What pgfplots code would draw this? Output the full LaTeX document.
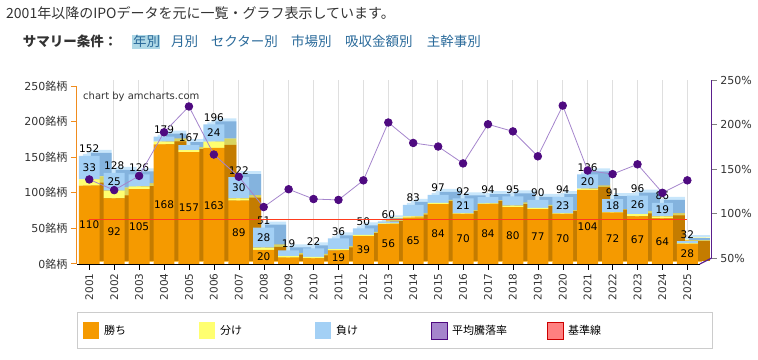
\documentclass[border=0pt]{standalone}
\usepackage{pgfplots}
\pgfplotsset{compat=1.18}
\usepackage{pgfplotstable}
\usepackage{fontspec}
\setmainfont{DejaVu Sans}
\newfontfamily\jp{Noto Sans CJK JP}
\definecolor{orF}{HTML}{F59A00}
\definecolor{orT}{HTML}{FBC045}
\definecolor{orS}{HTML}{C47C00}
\definecolor{yeF}{HTML}{FFFF70}
\definecolor{yeT}{HTML}{FFFFA8}
\definecolor{yeS}{HTML}{D8D460}
\definecolor{blF}{HTML}{A3D0F5}
\definecolor{blT}{HTML}{C8E6FB}
\definecolor{blS}{HTML}{84B3DE}
\definecolor{pline}{HTML}{A585CC}
\definecolor{pmark}{HTML}{4E0A80}
\definecolor{paxis}{HTML}{5A1F8C}
\definecolor{oaxis}{HTML}{F08C1E}
\definecolor{baseln}{RGB}{255,60,30}
\definecolor{txt}{HTML}{333333}
\definecolor{link}{HTML}{2A6A9A}
\definecolor{hl}{HTML}{AED8E6}

\pgfplotstableread{
i year win tie loss total rate wl ll
0 2001 110 9 33 152 145 110 33
1 2002 92 11 25 128 133 92 25
2 2003 105 4 17 126 149 105 {}
3 2004 168 4 7 179 198 168 {}
4 2005 157 3 7 167 227 157 {}
5 2006 163 9 24 196 173 163 24
6 2007 89 3 30 122 148 89 30
7 2008 20 3 28 51 114 20 28
8 2009 9 2 8 19 134 {} {}
9 2010 8 2 12 22 123 {} {}
10 2011 19 2 15 36 122 19 {}
11 2012 39 2 9 50 144 39 {}
12 2013 56 1 3 60 209 56 {}
13 2014 65 2 16 83 186 65 {}
14 2015 84 2 11 97 182 84 {}
15 2016 70 1 21 92 163 70 21
16 2017 84 1 9 94 207 84 {}
17 2018 80 2 13 95 199 80 {}
18 2019 77 2 11 90 171 77 {}
19 2020 70 1 23 94 228 70 23
20 2021 104 2 20 126 155 104 20
21 2022 72 1 18 91 151 72 18
22 2023 67 3 26 96 162 67 26
23 2024 64 3 19 86 130 64 19
24 2025 28 1 3 32 144 28 {}
}\data

\pgfplotsset{
  base/.style={scale only axis, width=623pt, height=178pt, xmin=-0.5, xmax=24.5,
    ymin=0, ymax=250, anchor=south west, clip=false},
  hid/.style={base, hide axis},
  stk/.style={hid, ybar stacked, bar width=0.84},
}
\newcommand\bars[3]{%
  \addplot[fill=#1, draw=none] table[x=i,y=win]{\data};
  \addplot[fill=#2, draw=none] table[x=i,y=tie]{\data};
  \addplot[fill=#3, draw=none] table[x=i,y=loss]{\data};
}
\newcommand\fs[1]{\fontsize{#1}{#1}\selectfont}

\begin{document}
\begin{tikzpicture}
% back grid
\begin{axis}[base, at={(88.8pt,101pt)}, xtick={0.5,1.5,...,23.5}, xmajorgrids,
  ytick=\empty, xticklabels={}, axis line style={draw=none}, major tick length=0pt,
  grid style={gray!25, line width=0.6pt}]
\addplot[draw=none] coordinates {(0,0)};
\end{axis}
% top faces
\begin{axis}[stk, at={(80.8pt,97pt)}]\bars{orT}{yeT}{blT}\end{axis}
\begin{axis}[stk, at={(84.8pt,99pt)}]\bars{orT}{yeT}{blT}\end{axis}
\begin{axis}[stk, at={(88.8pt,101pt)}]\bars{orT}{yeT}{blT}\end{axis}
% side faces
\begin{axis}[stk, at={(88.8pt,98pt)}]\bars{orS}{yeS}{blS}\end{axis}
% front
\begin{axis}[base, at={(76.8pt,95pt)}, ybar stacked, bar width=0.84, axis on top,
  axis x line*=bottom, axis y line*=left,
  x axis line style={black, line width=0.8pt}, y axis line style={oaxis, line width=1.2pt},
  xtick={0,...,24},
  xticklabels={2001,2002,2003,2004,2005,2006,2007,2008,2009,2010,2011,2012,2013,2014,2015,2016,2017,2018,2019,2020,2021,2022,2023,2024,2025},
  xticklabel style={rotate=90, anchor=east, font=\fs{10.5}, text=txt},
  ytick={0,50,100,150,200,250},
  yticklabels={0{\jp 銘柄},50{\jp 銘柄},100{\jp 銘柄},150{\jp 銘柄},200{\jp 銘柄},250{\jp 銘柄}},
  yticklabel style={font=\fs{11}, text=txt},
  tick align=outside, major tick length=6pt,
  x tick style={black}, y tick style={oaxis, line width=1pt}]
\bars{orF}{yeF}{blF}
\end{axis}
% labels
\begin{axis}[hid, at={(76.8pt,95pt)}, nodes near coords, point meta=explicit symbolic,
  every node near coord/.append style={anchor=center, font=\fs{10.5}, text=black, inner sep=0pt}]
\addplot[draw=none, mark=none] table[x=i, y expr=\thisrow{win}/2, meta=wl]{\data};
\addplot[draw=none, mark=none] table[x=i, y expr=\thisrow{win}+\thisrow{tie}+\thisrow{loss}/2, meta=ll]{\data};
\addplot[draw=none, mark=none, every node near coord/.append style={yshift=7pt}] table[x=i, y=total, meta=total]{\data};
\end{axis}
% rate line
\begin{axis}[hid, at={(76.8pt,95pt)}, ymin=50, ymax=250]
\addplot[color=baseln, line width=1pt, mark=none] coordinates {(0,100) (24,100)};
\addplot[color=pline, line width=0.8pt, mark=*, mark size=3.8pt, mark options={fill=pmark, draw=pmark}] table[x=i,y=rate]{\data};
\end{axis}
% right axis
\begin{axis}[base, at={(88.8pt,101pt)}, ymin=50, ymax=250, axis x line=none, axis y line*=right,
  y axis line style={paxis, line width=1.2pt}, ytick={50,100,150,200,250},
  yticklabels={50\%,100\%,150\%,200\%,250\%},
  tick align=outside, major tick length=5pt, y tick style={gray},
  yticklabel style={font=\fs{11}, text=txt}]
\addplot[draw=none, mark=none] coordinates {(0,100)};
\draw[paxis, line width=1.2pt] (axis cs:24.5,50) -- ++(-12pt,-6pt);
\end{axis}
% texts
\node[anchor=west, inner sep=0pt, font=\fs{10}, text=txt] at (83pt,262pt) {chart by amcharts.com};
\node[anchor=west, inner sep=0pt, font=\jp\fs{14}, text=txt] at (6pt,345.5pt) {2001年以降のIPOデータを元に一覧・グラフ表示しています。};
\node[anchor=west, inner sep=0pt, font=\jp\bfseries\fs{13.5}, text=txt] at (22.7pt,317.3pt) {サマリー条件：};
\fill[hl] (132pt,310.3pt) rectangle (160pt,324pt);
\foreach \x/\t in {133/年別,171/月別,210.7/セクター別,291/市場別,345/吸収金額別,426.7/主幹事別}
  \node[anchor=west, inner sep=0pt, font=\jp\fs{13.5}, text=link] at (\x pt,317.3pt) {\t};
% legend
\draw[gray!40, line width=0.8pt] (77.7pt,10.3pt) rectangle (712pt,47pt);
\fill[orF] (83.3pt,20pt) rectangle ++(16pt,17pt);
\fill[yeF] (199.3pt,20pt) rectangle ++(16pt,17pt);
\fill[blF] (315.3pt,20pt) rectangle ++(16pt,17pt);
\filldraw[fill=pline, draw=pmark, line width=0.8pt] (431.3pt,20pt) rectangle ++(16pt,17pt);
\filldraw[fill=red!50, draw=red!80!black, line width=0.8pt] (547.3pt,20pt) rectangle ++(16pt,17pt);
\foreach \x/\t in {104/勝ち,220/分け,336/負け,452/平均騰落率,568/基準線}
  \node[anchor=west, inner sep=0pt, font=\jp\fs{11}, text=black] at (\x pt,28.5pt) {\t};
\pgfresetboundingbox
\path[use as bounding box] (0,0) rectangle (758pt,359pt);
\end{tikzpicture}
\end{document}
